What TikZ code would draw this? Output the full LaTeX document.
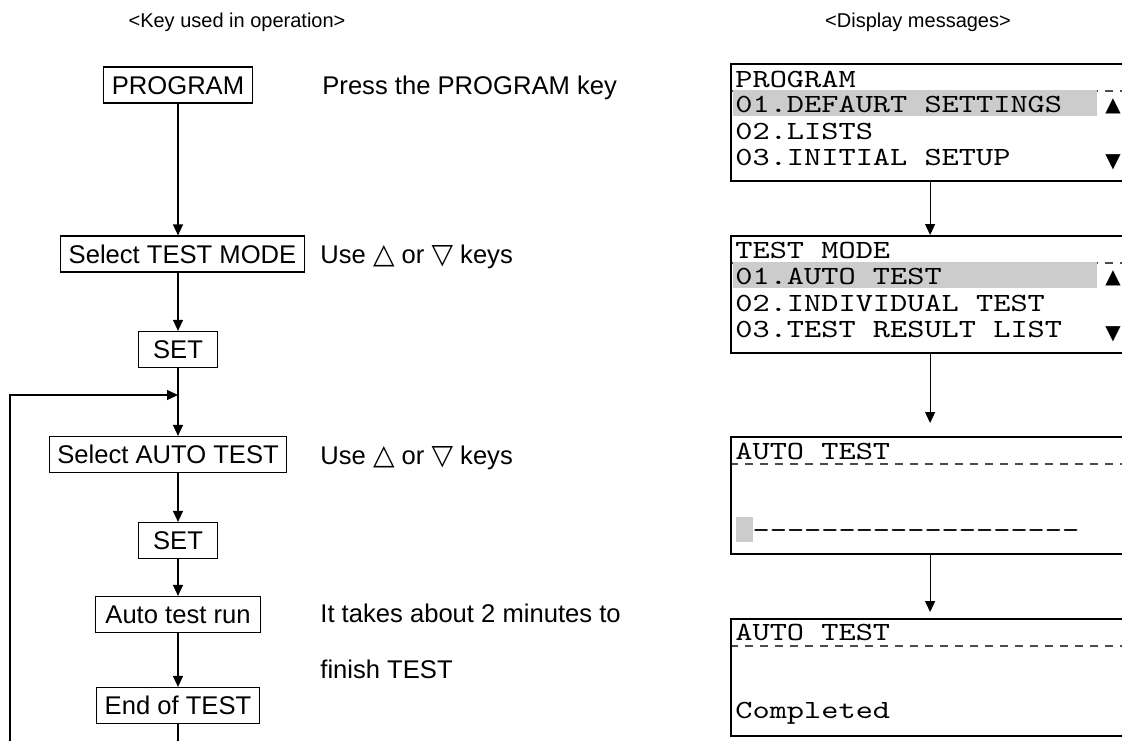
\documentclass[tikz,border=0pt]{standalone}
\usepackage{fontspec}
\setmainfont{Liberation Sans}
\newfontfamily\lcdfont[FakeStretch=1.25]{lmmono10-regular.otf}
\newfontfamily\symfont{DejaVu Sans}
\usetikzlibrary{arrows.meta}

\definecolor{lcdgrey}{RGB}{204,204,204}

\newcommand\upkey{{\symfont\fontsize{14}{15}\selectfont △}}
\newcommand\downkey{{\symfont\fontsize{14}{15}\selectfont ▽}}

\tikzset{
  key/.style={draw, line width=0.6pt, inner xsep=4pt, inner ysep=4.4pt,
    text height=9.2pt, text depth=0pt, font=\fontsize{12.8}{15}\selectfont},
  note/.style={anchor=base west, inner sep=0pt, font=\fontsize{12.8}{15}\selectfont},
  head/.style={anchor=base, inner sep=0pt, font=\fontsize{10}{12}\selectfont},
  lcd/.style={draw, line width=1.1pt, anchor=north west, minimum width=199pt,
    minimum height=58.5pt, inner sep=0pt},
  lcdtext/.style={anchor=base west, inner sep=0pt, font=\lcdfont\fontsize{13.1}{15}\selectfont},
  lcdmark/.style={inner sep=0pt, font=\symfont\fontsize{10}{12}\selectfont},
  lcdsep/.style={draw=black!70, line width=0.6pt, dash pattern=on 4pt off 3.5pt},
  flow/.style={line width=0.6pt, -{Triangle[length=5.5pt,width=5pt]}},
}

\begin{document}
\begin{tikzpicture}[x=0.5pt, y=-0.5pt]

\clip (0,0) rectangle (1122,740);

\node[head] (hkey) at (237,27) {<Key used in operation>};
\node[head] (hdisp) at (918,27) {<Display messages>};

% keys
\node[key] (prog) at (178,85) {PROGRAM};
\node[key] (tmode) at (182.5,254) {Select TEST MODE};
\node[key, minimum width=39.5pt] (set1) at (178,349.5) {SET};
\node[key] (atest) at (168,454.5) {Select AUTO TEST};
\node[key, minimum width=39.5pt] (set2) at (178,540.5) {SET};
\node[key, minimum width=82.5pt] (run) at (178,614.5) {Auto test run};
\node[key] (done) at (178,705.5) {End of TEST};

\node[note] (n1) at (322,94) {Press the PROGRAM key};
\node[note] (n2) at (320,263) {Use \upkey\ or \downkey\ keys};
\node[note] (n3) at (320,464) {Use \upkey\ or \downkey\ keys};
\node[note] (n4) at (320,622) {It takes about 2 minutes to};
\node[note] (n5) at (320,678) {finish TEST};

\coordinate (join) at (178,395);
\coordinate (back) at (10,750);
\coordinate (exit) at (178,750);

\draw[flow] (prog) -- (prog |- tmode.north);
\draw[flow] (set1 |- tmode.south) -- (set1);
\draw[flow] (set1) -- (set1 |- atest.north);
\draw[flow] (back) |- (join);
\draw[flow] (set1 |- atest.south) -- (set2);
\draw[flow] (set2) -- (run);
\draw[flow] (run) -- (done);
\draw[line width=0.6pt] (done) -- (exit);

% displays
\draw[lcdsep] (730,91) -- (1122,91);
\fill[lcdgrey] (733,89.5) rectangle (1097,116);
\draw[lcdsep] (730,263) -- (1122,263);
\fill[lcdgrey] (733,261.5) rectangle (1097,288);
\draw[lcdsep] (730,464) -- (1122,464);
\fill[lcdgrey] (736,517) rectangle (753,542);
\draw[lcdsep] (730,646) -- (1122,646);

\node[lcd] (d1) at (730,63) {};
\node[lcd] (d2) at (730,235) {};
\node[lcd] (d3) at (730,436) {};
\node[lcd] (d4) at (730,618) {};

\node[lcdtext] (d1a) at (735,87) {PROGRAM};
\node[lcdtext] (d1b) at (735,112.5) {01.DEFAURT SETTINGS};
\node[lcdtext] (d1c) at (735,139) {02.LISTS};
\node[lcdtext] (d1d) at (735,165.5) {03.INITIAL SETUP};
\node[lcdmark] (d1up) at (1113,106) {▲};
\node[lcdmark] (d1dn) at (1113,162) {▼};

\node[lcdtext] (d2a) at (735,258) {TEST MODE};
\node[lcdtext] (d2b) at (735,284.5) {01.AUTO TEST};
\node[lcdtext] (d2c) at (735,311) {02.INDIVIDUAL TEST};
\node[lcdtext] (d2d) at (735,337.5) {03.TEST RESULT LIST};
\node[lcdmark] (d2up) at (1113,278) {▲};
\node[lcdmark] (d2dn) at (1113,334) {▼};

\node[lcdtext] (d3a) at (735,459) {AUTO TEST};
\node[lcdtext] (d3b) at (752.2,538.5) {-------------------};

\node[lcdtext] (d4a) at (735,640) {AUTO TEST};
\node[lcdtext] (d4b) at (735,718) {Completed};

\draw[flow] (d1) -- (d2);
\draw[flow, shorten >=6.5pt] (d2) -- (d3);
\draw[flow, shorten >=3pt] (d3) -- (d4);

\end{tikzpicture}
\end{document}
